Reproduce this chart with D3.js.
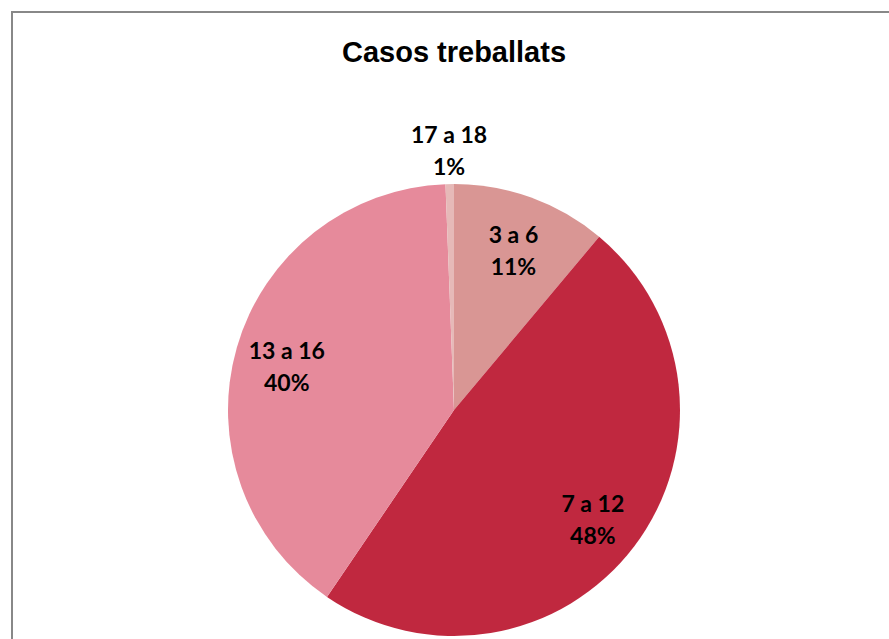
<!DOCTYPE html>
<html>
<head>
<meta charset="utf-8">
<script src="https://cdn.jsdelivr.net/npm/d3@7"></script>
<style>
  body { margin: 0; background: #fff; }
  .label { font-family: Lato, 'Open Sans', sans-serif; font-weight: bold; font-size: 23px; fill: #000; }
  .title { font-family: 'Liberation Sans', Arial, sans-serif; font-weight: bold; font-size: 29px; }
</style>
</head>
<body>
<div id="chart"></div>
<script>
// slices, clockwise from 12 o'clock
const categories = ['3 a 6', '7 a 12', '13 a 16', '17 a 18']
const shares = [11.1, 48.4, 39.9, 0.6]
const colors = ['#D99694', '#C0283F', '#E68A9B', '#E6B9B8']

const width = 889
const height = 639

const svg = d3
  .select('#chart')
  .append('svg')
  .attr('width', width)
  .attr('height', height)

// chart frame
svg
  .append('rect')
  .attr('x', 12)
  .attr('y', 12)
  .attr('width', width)
  .attr('height', height)
  .attr('fill', 'none')
  .attr('stroke', '#888')
  .attr('stroke-width', 2)

svg
  .append('text')
  .attr('class', 'title')
  .attr('x', 454)
  .attr('y', 62)
  .attr('text-anchor', 'middle')
  .text('Casos treballats')

const radius = 226
const g = svg.append('g').attr('transform', 'translate(454,410)')

const data = categories.map((c, i) => ({ name: c, value: shares[i] }))

const pie = d3.pie().value(d => d.value).sort(null)
const arc = d3.arc().innerRadius(0).outerRadius(radius)

const arcs = pie(data)

g.selectAll('path')
  .data(arcs)
  .enter()
  .append('path')
  .attr('d', arc)
  .attr('fill', (d, i) => colors[i])

// labels inside big slices, outside for the tiny one
const insideArc = d3.arc().innerRadius(174).outerRadius(174)
const outsideArc = d3.arc().innerRadius(264).outerRadius(264)

const labels = g.selectAll('.label')
  .data(arcs)
  .enter()
  .append('text')
  .attr('class', 'label')
  .attr('text-anchor', 'middle')
  .attr('transform', d => {
    const p = d.data.value < 5 ? outsideArc.centroid(d) : insideArc.centroid(d)
    return `translate(${p[0]},${p[1]})`
  })

labels.append('tspan')
  .attr('x', 0)
  .attr('y', -3)
  .text(d => d.data.name)

labels.append('tspan')
  .attr('x', 0)
  .attr('y', 29)
  .text(d => Math.round(d.data.value) + '%')
</script>
</body>
</html>
